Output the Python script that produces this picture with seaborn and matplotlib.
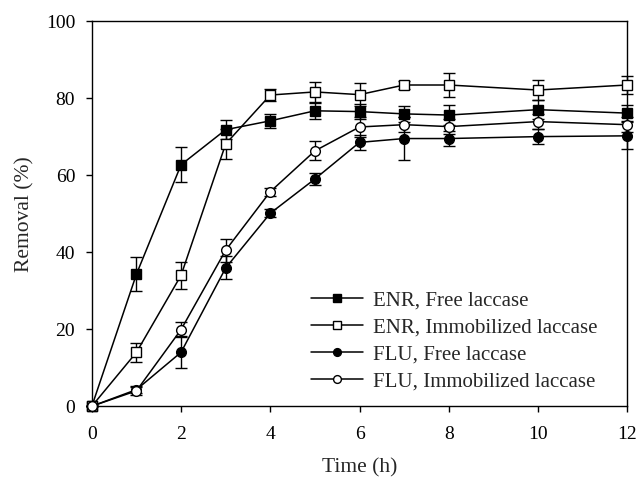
import numpy as np
import seaborn as sns
import matplotlib.pyplot as plt

sns.set_style("ticks")
plt.rcParams['font.family'] = ['Liberation Serif', 'DejaVu Serif']

# sampling times (h)
time = [0, 1, 2, 3, 4, 5, 6, 7, 8, 10, 12]

# removal (%) and error bars
enr_free = [0, 34.3, 62.7, 71.8, 74.1, 76.7, 76.5, 75.9, 75.6, 77.0, 76.1]
enr_free_err = [0, 4.5, 4.5, 2.5, 1.9, 2.0, 2.0, 2.0, 2.5, 2.5, 2.0]
enr_imm = [0, 14.0, 34.0, 68.1, 80.8, 81.6, 80.9, 83.4, 83.4, 82.1, 83.4]
enr_imm_err = [0, 2.5, 3.5, 4.0, 1.5, 2.5, 3.0, 1.0, 3.0, 2.6, 2.4]
flu_free = [0, 4.3, 14.0, 35.9, 50.1, 59.0, 68.5, 69.5, 69.5, 70.0, 70.2]
flu_free_err = [0, 1.0, 4.2, 3.0, 1.0, 1.5, 2.0, 5.5, 2.0, 2.0, 3.5]
flu_imm = [0, 4.0, 19.9, 40.5, 55.7, 66.3, 72.5, 73.1, 72.6, 73.9, 73.1]
flu_imm_err = [0, 1.0, 2.0, 3.0, 1.0, 2.5, 2.5, 2.0, 2.0, 2.0, 2.0]

labels = ["ENR, Free laccase", "ENR, Immobilized laccase",
          "FLU, Free laccase", "FLU, Immobilized laccase"]

series = [
    (enr_free, enr_free_err, 's', 'black'),
    (enr_imm, enr_imm_err, 's', 'white'),
    (flu_free, flu_free_err, 'o', 'black'),
    (flu_imm, flu_imm_err, 'o', 'white'),
]

fig = plt.figure(figsize=(6.38, 4.79), dpi=100)
ax = fig.add_axes([0.144, 0.152, 0.839, 0.804])

for (vals, err, mk, fc), lab in zip(series, labels):
    eb = ax.errorbar(time, vals, yerr=err, fmt='none', ecolor='black',
                     elinewidth=1, capsize=4, capthick=1, zorder=2)
    for art in eb.lines[1] + eb.lines[2]:
        art.set_clip_on(False)
    sns.lineplot(x=time, y=vals, ax=ax, color='black', linewidth=1.1,
                 marker=mk, markersize=7, markerfacecolor=fc,
                 markeredgecolor='black', markeredgewidth=1,
                 label=lab, zorder=3, clip_on=False)

ax.set_xlim(0, 12)
ax.set_ylim(0, 100)
ax.set_xticks(range(0, 13, 2))
ax.set_yticks(range(0, 101, 20))
ax.tick_params(axis='both', direction='out', length=4, width=1,
               labelsize=14, colors='black')
ax.tick_params(axis='x', pad=10)
ax.tick_params(axis='y', pad=8)
for sp in ax.spines.values():
    sp.set_linewidth(1)
    sp.set_color('black')

ax.set_xlabel("Time (h)", fontsize=15.5, labelpad=11)
ax.set_ylabel("Removal (%)", fontsize=15.5, labelpad=8)

ax.legend(loc='lower right', frameon=False, fontsize=15, handlelength=2.5,
          labelspacing=0.35, handletextpad=0.5, markerscale=0.8,
          borderpad=0.4, bbox_to_anchor=(0.98, -0.01))

fig.savefig("out.png", dpi=100)
